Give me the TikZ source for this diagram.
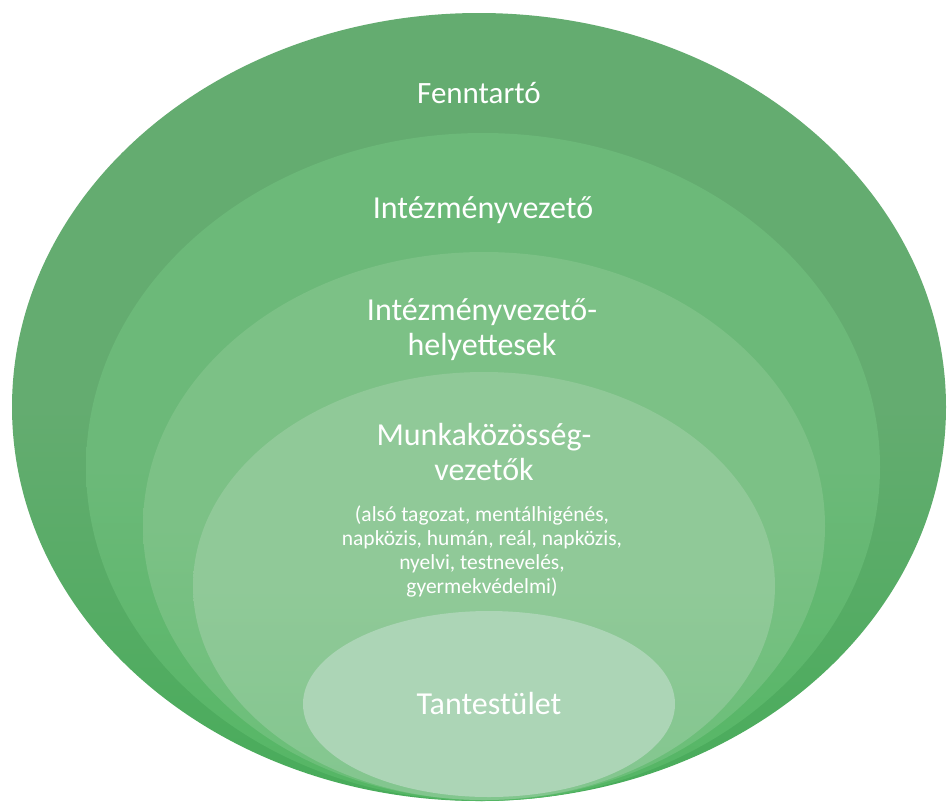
\documentclass[tikz,border=0pt]{standalone}
\usepackage{fontspec}
\setmainfont{Carlito}
\definecolor{cA}{RGB}{100,172,112}
\definecolor{cAb}{RGB}{72,172,90}
\definecolor{cB}{RGB}{108,185,121}
\definecolor{cBb}{RGB}{84,182,100}
\definecolor{cC}{RGB}{124,193,134}
\definecolor{cCb}{RGB}{104,190,118}
\definecolor{cD}{RGB}{144,201,152}
\definecolor{cDb}{RGB}{130,198,142}
\definecolor{cE}{RGB}{172,213,182}
\tikzset{
  big/.style={text=white, align=center, font=\fontsize{32}{35}\selectfont, inner sep=0pt},
  small/.style={text=white, align=center, font=\fontsize{21.5}{24}\selectfont, inner sep=0pt}
}
\begin{document}
\begin{tikzpicture}[x=1pt,y=-1pt]
\useasboundingbox (0,0) rectangle (948,804);
\fill[white] (0,0) rectangle (948,804);
\shade[top color=cA, bottom color=cAb, middle color=cA] (479,407) ellipse [x radius=467pt, y radius=394pt];
\shade[top color=cB, bottom color=cBb, middle color=cB] (483,467) ellipse [x radius=397pt, y radius=334pt];
\shade[top color=cC, bottom color=cCb, middle color=cC] (484,526) ellipse [x radius=341pt, y radius=274pt];
\shade[top color=cD, bottom color=cDb, middle color=cD] (484,586) ellipse [x radius=291pt, y radius=214pt];
\fill[cE] (489,704) ellipse [x radius=186pt, y radius=93pt];
\node[big, font=\fontsize{31}{35}\selectfont] (fenn) at (479,93) {Fenntartó};
\node[big] (iv) at (483,210) {Intézményvezető};
\node[big] (ivh) at (482,330) {Intézményvezető-\\helyettesek};
\node[big] (mkv) at (484,452) {Munkaközösség-\\vezetők};
\node[small] (list) at (482,551) {(alsó tagozat, mentálhigénés,\\napközis, humán, reál, napközis,\\nyelvi, testnevelés,\\gyermekvédelmi)};
\node[big] (tt) at (489,703) {Tantestület};
\end{tikzpicture}
\end{document}
